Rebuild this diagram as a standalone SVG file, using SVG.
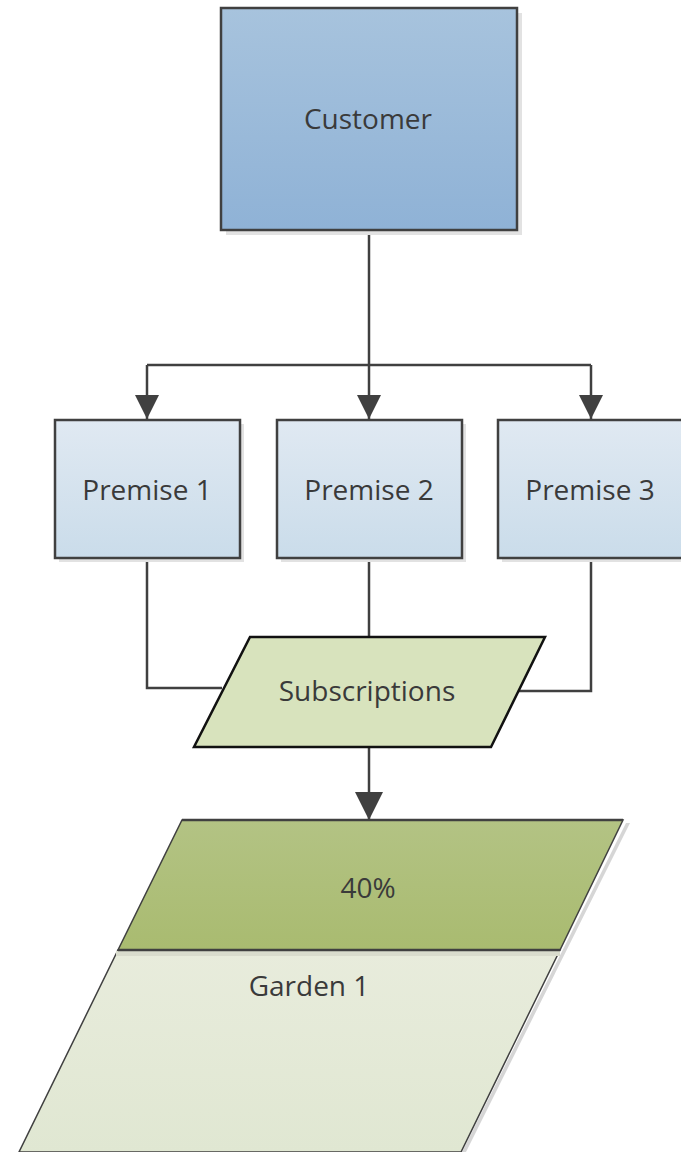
<svg xmlns="http://www.w3.org/2000/svg" width="681" height="1152" viewBox="0 0 681 1152">
<style>
.lbl{font-family:"Open Sans","Liberation Sans",sans-serif;font-size:28px;fill:#3a3a3a;text-anchor:middle;dominant-baseline:central}
.box{stroke:#404040;stroke-width:2.5}
.shadow{fill:#e2e2e2}
.conn{fill:none;stroke:#404040;stroke-width:2.5}
</style>
<defs>
<linearGradient id="gCust" x1="0" y1="0" x2="0" y2="1"><stop offset="0" stop-color="#a7c3dd"/><stop offset="1" stop-color="#8fb2d6"/></linearGradient>
<linearGradient id="gPrem" x1="0" y1="0" x2="0" y2="1"><stop offset="0" stop-color="#e0e9f2"/><stop offset="1" stop-color="#cadcea"/></linearGradient>
<linearGradient id="gTop" x1="0" y1="0" x2="0" y2="1"><stop offset="0" stop-color="#b3c384"/><stop offset="1" stop-color="#a9bb70"/></linearGradient>
<linearGradient id="gLow" x1="0" y1="0" x2="0" y2="1"><stop offset="0" stop-color="#e8ecdc"/><stop offset="1" stop-color="#e0e7d2"/></linearGradient>
<marker id="arr" markerUnits="userSpaceOnUse" markerWidth="26" markerHeight="24" refX="24" refY="12" orient="auto" viewBox="0 0 26 24"><path d="M0,0 L24,12 L0,24 Z" fill="#404040"/></marker>
<marker id="arrB" markerUnits="userSpaceOnUse" markerWidth="30" markerHeight="30" refX="28" refY="14" orient="auto" viewBox="0 0 30 30"><path d="M0,0 L28,14 L0,28 Z" fill="#404040"/></marker>
</defs>

<g id="connectors">
<path class="conn" d="M369,230 V419" marker-end="url(#arr)"/>
<path class="conn" d="M147,365 H591"/>
<path class="conn" d="M147,365 V419" marker-end="url(#arr)"/>
<path class="conn" d="M591,365 V419" marker-end="url(#arr)"/>
<path class="conn" d="M147,558 V688 H222"/>
<path class="conn" d="M369,558 V637"/>
<path class="conn" d="M591,558 V691 H517"/>
<path class="conn" d="M369,747 V820" marker-end="url(#arrB)"/>
</g>

<g id="customer">
<rect class="shadow" x="226" y="13" width="296" height="222"/>
<rect class="box" x="221" y="8" width="296" height="222" fill="url(#gCust)"/>
<text class="lbl" x="368" y="118">Customer</text>
</g>

<g id="premise1">
<rect class="shadow" x="59" y="424" width="185" height="138"/>
<rect class="box" x="55" y="420" width="185" height="138" fill="url(#gPrem)"/>
<text class="lbl" x="147" y="489">Premise 1</text>
</g>
<g id="premise2">
<rect class="shadow" x="281" y="424" width="185" height="138"/>
<rect class="box" x="277" y="420" width="185" height="138" fill="url(#gPrem)"/>
<text class="lbl" x="369" y="489">Premise 2</text>
</g>
<g id="premise3">
<rect class="shadow" x="502" y="424" width="185" height="138"/>
<rect class="box" x="498" y="420" width="185" height="138" fill="url(#gPrem)"/>
<text class="lbl" x="590" y="489">Premise 3</text>
</g>

<g id="subscriptions">
<polygon points="250,637 545,637 491,747 194,747" fill="#d8e3bd" stroke="#111" stroke-width="2.5"/>
<text class="lbl" x="367" y="690">Subscriptions</text>
</g>

<g id="garden1">
<polygon points="626,823 630,823 466,1152 462,1152" fill="#d6d6d6"/>
<polygon points="182,820 623,820 560,950 118,950" fill="url(#gTop)" stroke="#404040" stroke-width="1.5"/>
<polygon points="118,950 560,950 461,1152 19,1152" fill="url(#gLow)" stroke="#404040" stroke-width="1.5"/>
<rect x="116" y="951" width="444" height="5" fill="#d9dccd"/>
<path d="M182,820 H623 M118,950 H560" stroke="#404040" stroke-width="2.5"/>
<text class="lbl" x="368" y="887">40%</text>
<text class="lbl" x="309" y="985">Garden 1</text>
</g>
</svg>
